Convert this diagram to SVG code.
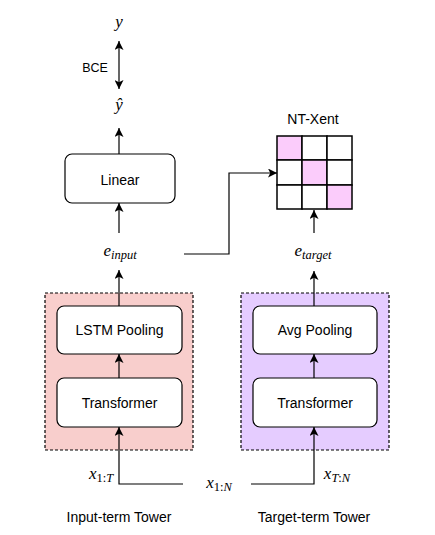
<svg xmlns="http://www.w3.org/2000/svg" width="435" height="535" viewBox="0 0 435 535">
<style>
  .box{fill:#ffffff;stroke:#000000;stroke-width:1.2}
  .tower{stroke:#000000;stroke-width:1.2;stroke-dasharray:3 2}
  .cell{fill:#ffffff;stroke:#000000;stroke-width:1.5}
  .pink{fill:#fbccfb}
  .lbl{font-family:"Liberation Sans",Arial,sans-serif;font-size:14px;fill:#000000;text-anchor:middle}
  .math{font-family:"Liberation Serif","Times New Roman",serif;font-style:italic;font-size:17px;fill:#000000;text-anchor:middle}
  .sub{font-size:12.5px}
  .up{font-style:normal}
  .edge{fill:none;stroke:#000000;stroke-width:1.2}
</style>
<defs>
  <marker id="arr" viewBox="0 0 10 10" refX="10" refY="5" markerWidth="9" markerHeight="9" markerUnits="userSpaceOnUse" orient="auto-start-reverse">
    <path d="M0,0 L10,5 L0,10 L2.5,5 z" fill="#000000"/>
  </marker>
</defs>
<rect width="435" height="535" fill="#ffffff"/>

<g id="input-tower">
  <rect class="tower" x="45" y="293" width="148" height="157" fill="#f8cecc"/>
  <text class="lbl" x="119" y="522">Input-term Tower</text>
</g>
<g id="target-tower">
  <rect class="tower" x="241" y="293" width="148" height="157" fill="#e5ccff"/>
  <text class="lbl" x="314" y="522">Target-term Tower</text>
</g>

<g id="lstm-pooling">
  <rect class="box" x="57" y="306" width="125" height="48" rx="7"/>
  <text class="lbl" x="119.5" y="335">LSTM Pooling</text>
</g>
<g id="transformer-left">
  <rect class="box" x="57" y="378" width="125" height="49" rx="7"/>
  <text class="lbl" x="119.5" y="408">Transformer</text>
</g>
<g id="avg-pooling">
  <rect class="box" x="253" y="306" width="124" height="48" rx="7"/>
  <text class="lbl" x="315" y="335">Avg Pooling</text>
</g>
<g id="transformer-right">
  <rect class="box" x="253" y="378" width="124" height="49" rx="7"/>
  <text class="lbl" x="315" y="408">Transformer</text>
</g>
<g id="linear">
  <rect class="box" x="65" y="154" width="110" height="49" rx="7"/>
  <text class="lbl" x="120" y="185">Linear</text>
</g>

<g id="nt-xent">
  <text class="lbl" x="313" y="124">NT-Xent</text>
  <rect class="cell pink" x="277" y="136" width="25" height="24"/>
  <rect class="cell" x="302" y="136" width="25" height="24"/>
  <rect class="cell" x="327" y="136" width="25" height="24"/>
  <rect class="cell" x="277" y="160" width="25" height="25"/>
  <rect class="cell pink" x="302" y="160" width="25" height="25"/>
  <rect class="cell" x="327" y="160" width="25" height="25"/>
  <rect class="cell" x="277" y="185" width="25" height="24"/>
  <rect class="cell" x="302" y="185" width="25" height="24"/>
  <rect class="cell pink" x="327" y="185" width="25" height="24"/>
</g>

<g id="y-label"><text class="math" x="119" y="27">y</text></g>
<g id="yhat-label"><text class="math" x="119" y="110">ŷ</text></g>
<g id="bce-label"><text class="lbl" x="95" y="72" style="font-size:12.5px">BCE</text></g>
<g id="e-input"><text class="math" x="120" y="256">e<tspan class="sub" dy="3">input</tspan></text></g>
<g id="e-target"><text class="math" x="313" y="256">e<tspan class="sub" dy="3">target</tspan></text></g>
<g id="x-1N"><text class="math" x="219" y="488">x<tspan class="sub" dy="3"><tspan class="up">1:</tspan>N</tspan></text></g>
<g id="x-1T"><text class="math" x="101" y="479">x<tspan class="sub" dy="3"><tspan class="up">1:</tspan>T</tspan></text></g>
<g id="x-TN"><text class="math" x="337" y="479">x<tspan class="sub" dy="3">T<tspan class="up">:</tspan>N</tspan></text></g>

<g id="connectors">
  <line class="edge" x1="119" y1="89" x2="119" y2="41" marker-start="url(#arr)" marker-end="url(#arr)"/>
  <line class="edge" x1="119" y1="154" x2="119" y2="128" marker-end="url(#arr)"/>
  <line class="edge" x1="119" y1="233" x2="119" y2="203" marker-end="url(#arr)"/>
  <line class="edge" x1="119" y1="306" x2="119" y2="270" marker-end="url(#arr)"/>
  <line class="edge" x1="119" y1="378" x2="119" y2="354" marker-end="url(#arr)"/>
  <line class="edge" x1="314" y1="233" x2="314" y2="210" marker-end="url(#arr)"/>
  <line class="edge" x1="314" y1="306" x2="314" y2="271" marker-end="url(#arr)"/>
  <line class="edge" x1="314" y1="378" x2="314" y2="354" marker-end="url(#arr)"/>
  <polyline class="edge" points="184,254 229,254 229,173 277,173" marker-end="url(#arr)"/>
  <polyline class="edge" points="183,484 119,484 119,427" marker-end="url(#arr)"/>
  <polyline class="edge" points="251,484 314,484 314,427" marker-end="url(#arr)"/>
</g>
</svg>
